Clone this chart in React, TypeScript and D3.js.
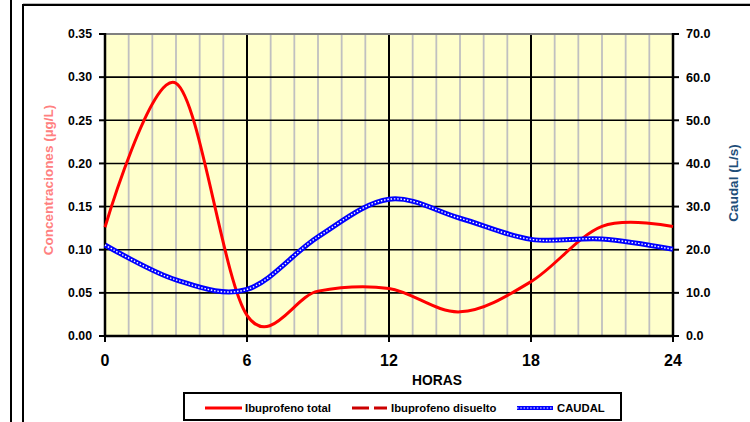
import React from "react";
import * as d3 from "d3";

const horas = [0, 3, 6, 9, 12, 15, 18, 21, 24];
const ibuprofenoTotal = [0.126, 0.293, 0.024, 0.052, 0.055, 0.028, 0.063, 0.127, 0.127];
const caudal = [21.1, 13.0, 10.8, 23.0, 31.7, 27.3, 22.4, 22.5, 20.1];

const leftTicks = [0, 0.05, 0.1, 0.15, 0.2, 0.25, 0.3, 0.35];
const rightTicks = [0, 10, 20, 30, 40, 50, 60, 70];
const xTicks = [0, 6, 12, 18, 24];
const minorHours = d3.range(0, 25);

const legendLabels = ["Ibuprofeno total", "Ibuprofeno disuelto", "CAUDAL"];

const FONT = "Arial, 'Liberation Sans', Helvetica, sans-serif";

export default function App() {
  const W = 750, H = 422;
  const L = 105, R = 673, T = 34, B = 336;
  const x = d3.scaleLinear().domain([0, 24]).range([L, R]);
  const yL = d3.scaleLinear().domain([0, 0.35]).range([B, T]);
  const yR = d3.scaleLinear().domain([0, 70]).range([B, T]);

  const curve = d3.curveCardinal.tension(0);
  const redPath = d3.line<number>().x((_, i) => x(horas[i])).y((d) => yL(d)).curve(curve)(ibuprofenoTotal) || "";
  const bluePath = d3.line<number>().x((_, i) => x(horas[i])).y((d) => yR(d)).curve(curve)(caudal) || "";

  return (
    <svg width={W} height={H} style={{ position: "absolute", left: 0, top: 0 }} fontFamily={FONT}>
      <rect x={0} y={0} width={W} height={H} fill="#fff" />
      {/* outer frames */}
      <line x1={11} y1={0} x2={11} y2={H} stroke="#000" strokeWidth={2} />
      <line x1={23} y1={3.5} x2={W} y2={3.5} stroke="#bbb" strokeWidth={1} />
      <rect x={23} y={5} width={W} height={H} fill="none" stroke="#000" strokeWidth={2} />

      {/* plot background */}
      <rect x={L} y={T} width={R - L} height={B - T} fill="#FFFFCC" />
      {minorHours.filter((h) => h % 6 !== 0).map((h) => (
        <line key={"m" + h} x1={x(h)} x2={x(h)} y1={T} y2={B} stroke="#C0C0C0" strokeWidth={1.8} />
      ))}
      {leftTicks.filter((t) => t > 0 && t < 0.35).map((t) => (
        <line key={"h" + t} x1={L} x2={R} y1={yL(t)} y2={yL(t)} stroke="#000" strokeWidth={1.6} />
      ))}
      {xTicks.filter((h) => h > 0 && h < 24).map((h) => (
        <line key={"M" + h} x1={x(h)} x2={x(h)} y1={T} y2={B} stroke="#000" strokeWidth={2} />
      ))}
      <line x1={L} x2={R} y1={T} y2={T} stroke="#808080" strokeWidth={2} />

      {/* axes */}
      <line x1={L} x2={L} y1={T - 1} y2={B + 1} stroke="#000" strokeWidth={2.5} />
      <line x1={R} x2={R} y1={T - 1} y2={B + 1} stroke="#000" strokeWidth={2.5} />
      <line x1={L} x2={R} y1={B} y2={B} stroke="#000" strokeWidth={2.5} />
      {leftTicks.map((t) => (
        <g key={"lt" + t}>
          <line x1={L - 6} x2={L} y1={yL(t)} y2={yL(t)} stroke="#000" strokeWidth={2} />
          <text x={92} y={yL(t)} dy="0.35em" textAnchor="end" fontSize={12.3} fontWeight="bold" fill="#000">
            {t.toFixed(2)}
          </text>
        </g>
      ))}
      {rightTicks.map((t) => (
        <g key={"rt" + t}>
          <line x1={R} x2={R + 6} y1={yR(t)} y2={yR(t)} stroke="#000" strokeWidth={2} />
          <text x={686} y={yR(t)} dy="0.35em" textAnchor="start" fontSize={12.6} fontWeight="bold" fill="#000">
            {t.toFixed(1)}
          </text>
        </g>
      ))}
      {xTicks.map((h) => (
        <g key={"xt" + h}>
          <line x1={x(h)} x2={x(h)} y1={B} y2={B + 6} stroke="#000" strokeWidth={2} />
          <text x={x(h)} y={360} dy="0.35em" textAnchor="middle" fontSize={16} fontWeight="bold" fill="#000">
            {h}
          </text>
        </g>
      ))}

      {/* axis titles */}
      <text x={437} y={380} dy="0.35em" textAnchor="middle" fontSize={13.8} fontWeight="bold" fill="#000">
        HORAS
      </text>
      <text transform="translate(53,180) rotate(-90)" textAnchor="middle" fontSize={13.5} fontWeight="bold" fill="#FF8080">
        Concentraciones (µg/L)
      </text>
      <text transform="translate(738,183) rotate(-90)" textAnchor="middle" fontSize={13.5} fontWeight="bold" fill="#1F4E79">
        Caudal (L/s)
      </text>

      {/* series */}
      <path d={redPath} fill="none" stroke="#FF0000" strokeWidth={3} strokeLinejoin="round" />
      <path d={bluePath} fill="none" stroke="#0000FF" strokeWidth={5} strokeLinejoin="round" />
      <path d={bluePath} fill="none" stroke="#FFFFFF" strokeWidth={1.4} strokeDasharray="1.5 1.8" />

      {/* legend */}
      <rect x={184} y={393} width={437} height={27} fill="#fff" stroke="#000" strokeWidth={2} />
      <line x1={205} x2={242} y1={408} y2={408} stroke="#FF0000" strokeWidth={3} />
      <text x={245} y={408} dy="0.35em" fontSize={11.3} fontWeight="bold" fill="#000">{legendLabels[0]}</text>
      <line x1={352} x2={387} y1={408} y2={408} stroke="#CC0000" strokeWidth={3} strokeDasharray="17 5" />
      <text x={391} y={408} dy="0.35em" fontSize={11.3} fontWeight="bold" fill="#000">{legendLabels[1]}</text>
      <line x1={517} x2={553} y1={408} y2={408} stroke="#0000FF" strokeWidth={4} />
      <line x1={517} x2={553} y1={408} y2={408} stroke="#FFFFFF" strokeWidth={1.2} strokeDasharray="1.5 1.8" />
      <text x={557} y={408} dy="0.35em" fontSize={11.3} fontWeight="bold" fill="#000">{legendLabels[2]}</text>
    </svg>
  );
}
